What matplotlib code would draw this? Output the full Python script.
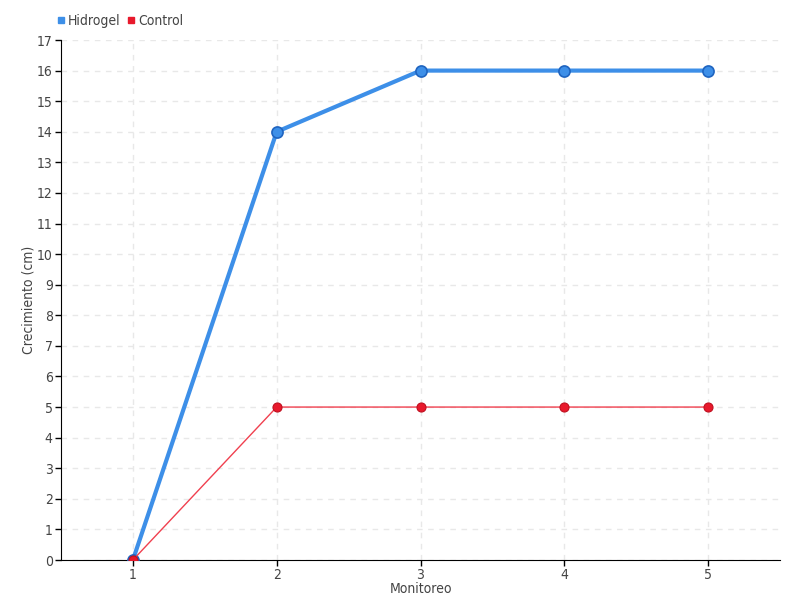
import matplotlib.pyplot as plt
from matplotlib.lines import Line2D

monitoreo = [1, 2, 3, 4, 5]
hidrogel = [0, 14, 16, 16, 16]
control = [0, 5, 5, 5, 5]
y_ticks = list(range(0, 18))

plt.rcParams['font.family'] = ['DejaVu Sans']
plt.rcParams['font.stretch'] = 'condensed'
txt = '#444444'

fig = plt.figure(figsize=(8, 6), dpi=100)
ax = fig.add_axes([61 / 800, 1 - 560 / 600, 719 / 800, 520 / 600])

ax.plot(monitoreo, hidrogel, color='#3d8fe8', lw=3, marker='o', ms=8,
        mfc='#3d8fe8', mec='#1f64c0', mew=1.2, zorder=3)
ax.plot(monitoreo, control, color='#f0404f', lw=1, marker='o', ms=6.5,
        mfc='#e8192c', mec='#c01020', mew=0.8, zorder=4)

ax.set_xlim(0.5, 5.5)
ax.set_ylim(0, 17)
ax.set_xticks(monitoreo)
ax.set_yticks(y_ticks)
ax.tick_params(labelsize=10, colors=txt, length=4, width=1, pad=2)
ax.tick_params(axis='both', color='black')
ax.grid(True, ls=(0, (4, 4)), color='#e8e8e8', lw=1)
ax.set_axisbelow(True)
for s in ['top', 'right']:
    ax.spines[s].set_visible(False)
ax.set_xlabel('Monitoreo', color=txt, fontsize=10, labelpad=0)
ax.set_ylabel('Crecimiento (cm)', color=txt, fontsize=10, labelpad=1)

handles = [Line2D([], [], ls='', marker='s', ms=5, color='#3d8fe8'),
           Line2D([], [], ls='', marker='s', ms=5, color='#e8192c')]
fig.legend(handles, ['Hidrogel', 'Control'], loc='center left',
           bbox_to_anchor=(44 / 800, 1 - 21 / 600), ncol=2, frameon=False,
           fontsize=10, handlelength=0.6, handletextpad=0.2, columnspacing=0.5,
           labelcolor=txt)

fig.savefig('out.png', dpi=100)
